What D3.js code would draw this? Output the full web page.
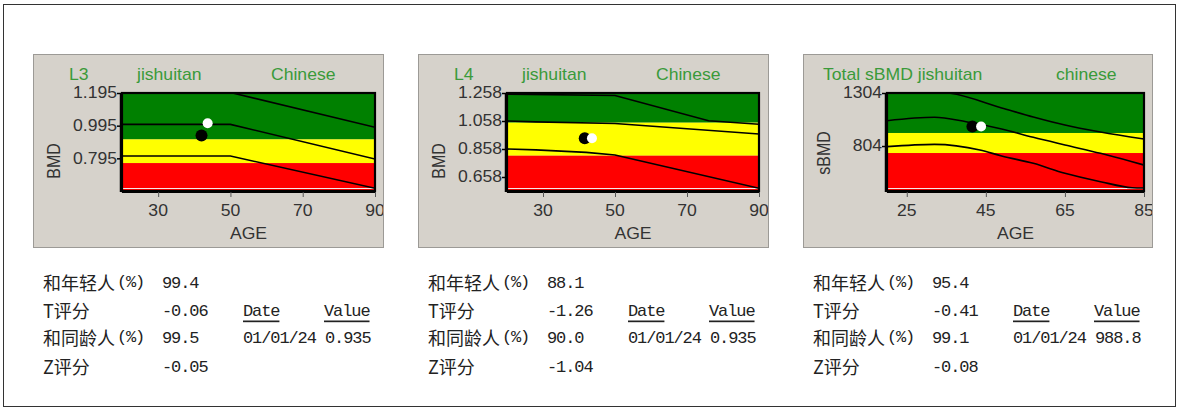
<!DOCTYPE html>
<html>
<head>
<meta charset="utf-8">
<script src="https://cdn.jsdelivr.net/npm/d3@7/dist/d3.min.js"></script>
<style>
  html, body { margin: 0; padding: 0; background: #fff; }
  svg { display: block; }
  .panel-text { font-family: "Liberation Sans", Arial, sans-serif; font-size: 16px; }
  .tbl-cjk { font-family: "Noto Sans CJK SC", sans-serif; font-size: 18px; fill: #222; }
  .tbl-num { font-family: "Liberation Mono", "DejaVu Sans Mono", monospace; font-size: 17px; letter-spacing: -1.1px; fill: #222; }
</style>
</head>
<body>
<svg id="chart" width="1179" height="408"></svg>
<script>
// ---------- L3 ----------
const l3Title = ["L3", "jishuitan", "Chinese"];
const l3AgeDomain = [20, 90];
const l3BmdDomain = [0.595, 1.195];
const l3XTicks = [30, 50, 70, 90];
const l3YTicks = [1.195, 0.995, 0.795];
const l3YTickLabels = ["1.195", "0.995", "0.795"];
const l3Thresholds = [0.911, 0.766];           // green/yellow, yellow/red
const l3CurveAges = [20, 50, 90];
const l3Upper = [1.198, 1.198, 0.985];
const l3Mean = [1.003, 1.003, 0.791];
const l3Lower = [0.809, 0.809, 0.612];
const l3Scan = [42, 0.935];
const l3Prior = [43.7, 1.010];

// ---------- L4 ----------
const l4Title = ["L4", "jishuitan", "Chinese"];
const l4AgeDomain = [20, 90];
const l4BmdDomain = [0.558, 1.258];
const l4XTicks = [30, 50, 70, 90];
const l4YTicks = [1.258, 1.058, 0.858, 0.658];
const l4YTickLabels = ["1.258", "1.058", "0.858", "0.658"];
const l4Thresholds = [1.046, 0.810];
const l4UpperAges = [20, 50, 76, 90];
const l4Upper = [1.250, 1.240, 1.060, 1.035];
const l4MeanAges = [20, 28, 50, 90];
const l4Mean = [1.058, 1.052, 1.040, 0.965];
const l4LowerAges = [20, 28, 42, 50, 90];
const l4Lower = [0.858, 0.852, 0.834, 0.815, 0.577];
const l4Scan = [41.6, 0.935];
const l4Prior = [43.6, 0.935];

// ---------- Total sBMD ----------
const sTitle = ["Total sBMD jishuitan", "chinese"];
const sAgeDomain = [20, 85];
const sBmdDomain = [380, 1304];
const sXTicks = [25, 45, 65, 85];
const sYTicks = [1304, 804];
const sYTickLabels = ["1304", "804"];
const sThresholds = [927, 738];
const sUpperAges = [20, 28, 36, 49, 57, 65, 74, 85];
const sUpper = [1304, 1320, 1301, 1163, 1078, 1002, 936, 870];
const sMeanAges = [20, 32, 40, 49, 57, 65, 74, 82, 85];
const sMean = [1043, 1075, 1033, 965, 886, 814, 735, 656, 625];
const sLowerAges = [20, 32, 43.5, 49, 57, 65, 74, 82, 85];
const sLower = [798, 820, 767, 710, 641, 547, 468, 411, 408];
const sScan = [41.6, 988.8];
const sPrior = [43.8, 988.8];

// ---------- result tables ----------
const rowLabels = ["和年轻人", "T评分", "和同龄人", "Z评分"];
const rowUnits = ["(%)", "", "(%)", ""];
const l3Stats = ["99.4", "-0.06", "99.5", "-0.05"];
const l4Stats = ["88.1", "-1.26", "90.0", "-1.04"];
const sStats = ["95.4", "-0.41", "99.1", "-0.08"];
const scanDates = ["01/01/24", "01/01/24", "01/01/24"];
const scanValues = ["0.935", "0.935", "988.8"];
const colHeaders = ["Date", "Value"];

const svg = d3.select("#chart");

// outer frame
svg.append("rect")
  .attr("x", 3.5).attr("y", 4.5).attr("width", 1172).attr("height", 402)
  .attr("fill", "#fff").attr("stroke", "#333").attr("stroke-width", 1);

// horizontally widened text, as the report font renders
function wideText(g, x, y, str, opts = {}) {
  const t = g.append("text")
    .attr("class", "panel-text")
    .attr("transform", `translate(${x},${y}) scale(1.1,1)${opts.rotate ? " rotate(-90)" : ""}`)
    .attr("text-anchor", opts.anchor || "start")
    .attr("fill", opts.fill || "#333")
    .text(str);
  if (opts.baseline) t.attr("dominant-baseline", opts.baseline);
  return t;
}

const panels = [
  {
    id: "l3", box: [33, 54, 350, 193], plot: [122, 93, 375, 191],
    titles: [[l3Title[0], 69], [l3Title[1], 137], [l3Title[2], 271]],
    ageDomain: l3AgeDomain, bmdDomain: l3BmdDomain,
    xTicks: l3XTicks, yTicks: l3YTicks, yTickLabels: l3YTickLabels,
    thresholds: l3Thresholds,
    curves: [[l3CurveAges, l3Upper], [l3CurveAges, l3Mean], [l3CurveAges, l3Lower]],
    smooth: false, yLabel: "BMD", yLabelPos: [60, 161],
    scan: l3Scan, prior: l3Prior, stats: l3Stats, tableX: 43
  },
  {
    id: "l4", box: [418, 54, 350, 193], plot: [507, 93, 759, 191],
    titles: [[l4Title[0], 454], [l4Title[1], 522], [l4Title[2], 656]],
    ageDomain: l4AgeDomain, bmdDomain: l4BmdDomain,
    xTicks: l4XTicks, yTicks: l4YTicks, yTickLabels: l4YTickLabels,
    thresholds: l4Thresholds,
    curves: [[l4UpperAges, l4Upper], [l4MeanAges, l4Mean], [l4LowerAges, l4Lower]],
    smooth: false, yLabel: "BMD", yLabelPos: [445, 161],
    scan: l4Scan, prior: l4Prior, stats: l4Stats, tableX: 428
  },
  {
    id: "s", box: [803, 54, 349, 193], plot: [887, 93, 1144, 191],
    titles: [[sTitle[0], 823], [sTitle[1], 1056]],
    ageDomain: sAgeDomain, bmdDomain: sBmdDomain,
    xTicks: sXTicks, yTicks: sYTicks, yTickLabels: sYTickLabels,
    thresholds: sThresholds,
    curves: [[sUpperAges, sUpper], [sMeanAges, sMean], [sLowerAges, sLower]],
    smooth: true, yLabel: "sBMD", yLabelPos: [830, 153],
    scan: sScan, prior: sPrior, stats: sStats, tableX: 813
  }
];

panels.forEach((p, i) => {
  const [bx, by, bw, bh] = p.box;
  const [x0, y0, x1, y1] = p.plot;

  const clipId = `clip-box-${p.id}`;
  svg.append("clipPath").attr("id", clipId)
    .append("rect").attr("x", bx).attr("y", by).attr("width", bw).attr("height", bh);
  const plotClip = `clip-plot-${p.id}`;
  svg.append("clipPath").attr("id", plotClip)
    .append("rect").attr("x", x0).attr("y", y0).attr("width", x1 - x0).attr("height", y1 - y0);

  // gray report panel
  svg.append("rect")
    .attr("x", bx + 0.5).attr("y", by + 0.5).attr("width", bw).attr("height", bh)
    .attr("fill", "#d6d2cb").attr("stroke", "#9c9a96").attr("stroke-width", 1);

  const g = svg.append("g").attr("clip-path", `url(#${clipId})`);

  const x = d3.scaleLinear().domain(p.ageDomain).range([x0, x1]);
  const y = d3.scaleLinear().domain(p.bmdDomain).range([y1, y0]);

  // titles
  p.titles.forEach(([txt, tx]) => wideText(g, tx, 80, txt, { fill: "#3a9a3a" }));

  // reference bands
  const plotG = g.append("g").attr("clip-path", `url(#${plotClip})`);
  const [tHi, tLo] = p.thresholds;
  const bands = [
    { lo: tHi, hi: p.bmdDomain[1], c: "#008000" },
    { lo: tLo, hi: tHi, c: "#ffff00" },
    { lo: p.bmdDomain[0], hi: tLo, c: "#ff0000" }
  ];
  plotG.selectAll("rect.band").data(bands).join("rect")
    .attr("class", "band")
    .attr("x", x0).attr("width", x1 - x0)
    .attr("y", d => y(d.hi)).attr("height", d => y(d.lo) - y(d.hi))
    .attr("fill", d => d.c);

  // thin light line along the bottom of the chart area
  plotG.append("line")
    .attr("x1", x0).attr("x2", x1).attr("y1", y1 - 2.5).attr("y2", y1 - 2.5)
    .attr("stroke", "#f4e8e8").attr("stroke-width", 1.2);

  // age curves
  const line = d3.line()
    .x(d => x(d[0])).y(d => y(d[1]))
    .curve(p.smooth ? d3.curveMonotoneX : d3.curveLinear);
  p.curves.forEach(([ages, vals]) => {
    plotG.append("path")
      .datum(ages.map((a, k) => [a, vals[k]]))
      .attr("d", line)
      .attr("fill", "none").attr("stroke", "#000").attr("stroke-width", 1.6);
  });

  // scan points
  plotG.append("circle")
    .attr("cx", x(p.scan[0])).attr("cy", y(p.scan[1])).attr("r", 6)
    .attr("fill", "#000");
  plotG.append("circle")
    .attr("cx", x(p.prior[0])).attr("cy", y(p.prior[1])).attr("r", 5)
    .attr("fill", "#fff");

  // chart frame
  g.append("rect")
    .attr("x", x0).attr("y", y0).attr("width", x1 - x0).attr("height", y1 - y0)
    .attr("fill", "none").attr("stroke", "#000").attr("stroke-width", 2.2);
  g.append("line").attr("x1", x0 - 1.5).attr("x2", x0 - 1.5).attr("y1", y0).attr("y2", y1 + 1)
    .attr("stroke", "#000").attr("stroke-width", 1.5);
  g.append("line").attr("x1", x0).attr("x2", x1 + 1).attr("y1", y1 + 1.5).attr("y2", y1 + 1.5)
    .attr("stroke", "#000").attr("stroke-width", 1.2);

  // axes
  const xAxis = d3.axisBottom(x).tickValues(p.xTicks).tickSize(5).tickPadding(3)
    .tickFormat(d3.format("d"));
  const xg = g.append("g").attr("transform", `translate(0,${y1 + 1})`).call(xAxis);
  xg.select(".domain").remove();
  xg.selectAll(".tick line").attr("stroke", "#555");
  xg.selectAll(".tick text").remove();
  p.xTicks.forEach(t => wideText(g, x(t), 216, String(t), { anchor: "middle" }));

  const yAxis = d3.axisLeft(y).tickValues(p.yTicks).tickSize(4).tickFormat((d, k) => p.yTickLabels[k]);
  const yg = g.append("g").attr("transform", `translate(${x0 - 1},0)`).call(yAxis);
  yg.select(".domain").remove();
  yg.selectAll(".tick line").attr("stroke", "#000").attr("stroke-width", 1.5);
  yg.selectAll(".tick text").remove();
  p.yTicks.forEach((t, k) => wideText(g, x0 - 5, y(t), p.yTickLabels[k], { anchor: "end", baseline: "central" }));

  wideText(g, (x0 + x1) / 2, 239, "AGE", { anchor: "middle" });
  wideText(g, p.yLabelPos[0], p.yLabelPos[1], p.yLabel, { anchor: "middle", rotate: true });

  // result table
  const tx = p.tableX;
  const rowY = [282, 310, 337, 366];
  const numY = r => rowY[r] + 1;
  rowLabels.forEach((lab, r) => {
    const t = svg.append("text").attr("class", "tbl-cjk")
      .attr("x", tx).attr("y", rowY[r]).attr("dominant-baseline", "central");
    t.append("tspan").text(lab);
    if (rowUnits[r]) {
      t.append("tspan")
        .style("font-family", '"Liberation Mono", monospace')
        .style("font-size", "17px").style("letter-spacing", "-1.2px")
        .attr("dx", 2).text(rowUnits[r]);
    }
    svg.append("text").attr("class", "tbl-num")
      .attr("x", tx + 119).attr("y", numY(r)).attr("dominant-baseline", "central").text(p.stats[r]);
  });
  svg.append("text").attr("class", "tbl-num")
    .attr("x", tx + 200).attr("y", numY(1)).attr("dominant-baseline", "central")
    .style("text-decoration", "underline").text(colHeaders[0]);
  svg.append("text").attr("class", "tbl-num")
    .attr("x", tx + 281).attr("y", numY(1)).attr("dominant-baseline", "central")
    .style("text-decoration", "underline").text(colHeaders[1]);
  svg.append("text").attr("class", "tbl-num")
    .attr("x", tx + 200).attr("y", numY(2)).attr("dominant-baseline", "central").text(scanDates[i]);
  svg.append("text").attr("class", "tbl-num")
    .attr("x", tx + 282).attr("y", numY(2)).attr("dominant-baseline", "central").text(scanValues[i]);
});
</script>
</body>
</html>
